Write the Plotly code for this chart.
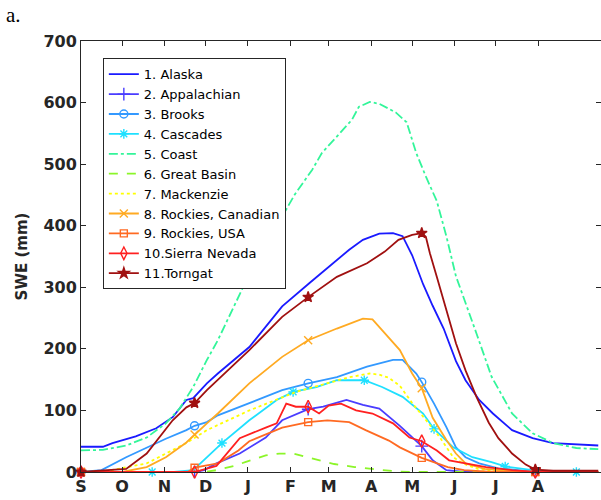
import plotly.graph_objects as go

# ---------------- data (day 0 = 1 September) ----------------
MONTH_DAYS = [0, 30, 61, 91, 122, 153, 181, 212, 242, 273, 303, 334]
MONTH_LABELS = ["S", "O", "N", "D", "J", "F", "M", "A", "M", "J", "J", "A"]
Y_TICKS = [0, 100, 200, 300, 400, 500, 600, 700]

MARK_DAYS = [0, 83, 166, 249, 332]
CASC_MARK_DAYS = [0, 52, 103, 155, 207, 258, 310, 362]

alaska_day = [0, 16, 23, 40, 55, 67, 77, 82, 92, 100, 123, 147, 167, 187, 196, 206, 218, 228, 235,
              242, 250, 257, 265, 274, 281, 291, 301, 315, 330, 345, 359, 378]
alaska_swe = [41, 41, 47, 58, 71, 89, 117, 120, 144, 160, 203, 269, 307, 345, 361, 377, 387, 388, 383,
              352, 305, 270, 233, 180, 149, 117, 95, 68, 55, 47, 45, 43]

appal_day = [0, 83, 90, 99, 116, 123, 135, 147, 166, 177, 194, 206, 218, 233, 249, 257, 267, 280, 332, 378]
appal_swe = [0, 0, 3, 14, 30, 40, 56, 84, 102, 106, 117, 109, 103, 75, 42, 19, 3, 0, 0, 0]

brooks_day = [0, 15, 33, 48, 62, 77, 83, 92, 100, 123, 147, 166, 187, 209, 228, 235, 245, 249, 258,
              267, 274, 281, 291, 305, 320, 332, 378]
brooks_swe = [0, 3, 24, 40, 54, 68, 75, 81, 92, 112, 133, 144, 154, 171, 182, 182, 160, 146, 111,
              73, 40, 24, 14, 6, 2, 0, 0]

casc_day = [0, 52, 68, 82, 92, 103, 123, 143, 155, 172, 187, 207, 220, 235, 250, 258, 272, 286, 300,
            310, 330, 345, 362, 378]
casc_swe = [0, 0, 0, 3, 24, 47, 84, 117, 130, 138, 149, 149, 138, 122, 95, 70, 40, 24, 16,
            9, 3, 0, 0, 0]

coast_day = [0, 16, 33, 48, 62, 72, 82, 92, 100, 118, 121, 156, 169, 176, 189, 198, 203, 211, 218,
             230, 238, 245, 252, 260, 267, 274, 289, 300, 315, 330, 345, 362, 378]
coast_swe = [35, 36, 43, 56, 79, 103, 138, 182, 214, 300, 312, 450, 491, 518, 550, 572, 593, 601, 598,
             584, 568, 518, 480, 440, 383, 318, 225, 155, 95, 63, 47, 39, 37]

basin_day = [0, 90, 99, 112, 120, 135, 145, 155, 165, 175, 185, 200, 215, 230, 245, 378]
basin_swe = [0, 0, 3, 10, 16, 27, 30, 30, 24, 18, 13, 8, 4, 1, 0, 0]

mack_day = [0, 20, 48, 62, 77, 92, 100, 123, 157, 196, 211, 218, 225, 233, 242, 252, 262, 272, 279,
            290, 300, 320, 378]
mack_swe = [0, 2, 14, 30, 47, 68, 76, 100, 130, 154, 160, 158, 153, 140, 112, 84, 57, 24, 14,
            5, 2, 0, 0]

rcan_day = [0, 30, 48, 62, 77, 83, 92, 100, 123, 147, 166, 187, 206, 213, 222, 233, 242, 249, 257,
            267, 274, 281, 295, 310, 332, 378]
rcan_swe = [0, 0, 8, 24, 48, 61, 79, 95, 144, 187, 214, 233, 249, 248, 225, 198, 160, 136, 88,
            52, 30, 14, 5, 2, 0, 0]

rusa_day = [0, 78, 83, 100, 115, 123, 147, 166, 180, 196, 208, 225, 233, 249, 268, 280, 300, 332, 378]
rusa_swe = [0, 0, 7, 14, 35, 50, 72, 81, 84, 81, 68, 51, 40, 23, 8, 3, 0, 0, 0]

sierra_day = [0, 83, 99, 116, 135, 143, 150, 157, 166, 174, 181, 190, 201, 213, 228, 240, 249, 260,
              269, 282, 296, 315, 332, 378]
sierra_swe = [0, 0, 10, 55, 72, 79, 111, 106, 106, 95, 108, 111, 100, 95, 79, 56, 50, 35,
              19, 14, 8, 3, 0, 0]

torn_day = [0, 33, 48, 57, 67, 77, 83, 92, 100, 123, 147, 166, 187, 209, 222, 232, 242, 249, 252,
            255, 260, 267, 274, 281, 289, 298, 305, 315, 325, 332, 345, 378]
torn_swe = [0, 5, 30, 56, 84, 105, 112, 133, 150, 198, 252, 284, 317, 339, 358, 377, 385, 388, 382,
            355, 317, 263, 209, 165, 122, 80, 55, 30, 12, 4, 2, 2]

NAMES = ["1. Alaska", "2. Appalachian", "3. Brooks", "4. Cascades", "5. Coast", "6. Great Basin",
         "7. Mackenzie", "8. Rockies, Canadian", "9. Rockies, USA", "10.Sierra Nevada", "11.Torngat"]

# ---------------- styles ----------------
series = [
    dict(d=alaska_day, v=alaska_swe, color="#1a1aff", dash="solid", sym=None, marks=None, ms=0),
    dict(d=appal_day, v=appal_swe, color="#4a3dff", dash="solid", sym="cross-thin-open", marks=MARK_DAYS, ms=9),
    dict(d=brooks_day, v=brooks_swe, color="#3399ff", dash="solid", sym="circle-open", marks=MARK_DAYS, ms=8),
    dict(d=casc_day, v=casc_swe, color="#1fe0ff", dash="solid", sym="asterisk-open", marks=CASC_MARK_DAYS, ms=8),
    dict(d=coast_day, v=coast_swe, color="#33f59a", dash="dashdot", sym=None, marks=None, ms=0),
    dict(d=basin_day, v=basin_swe, color="#8cf529", dash="dash", sym=None, marks=None, ms=0),
    dict(d=mack_day, v=mack_swe, color="#ffff00", dash="dot", sym=None, marks=None, ms=0),
    dict(d=rcan_day, v=rcan_swe, color="#ffaa22", dash="solid", sym="x-thin-open", marks=MARK_DAYS, ms=8),
    dict(d=rusa_day, v=rusa_swe, color="#ff6a22", dash="solid", sym="square-open", marks=MARK_DAYS, ms=7),
    dict(d=sierra_day, v=sierra_swe, color="#ff2020", dash="solid", sym="diamond-tall-open", marks=MARK_DAYS, ms=9),
    dict(d=torn_day, v=torn_swe, color="#a01010", dash="solid", sym="star", marks=MARK_DAYS, ms=8),
]

fig = go.Figure()
for name, s in zip(NAMES, series):
    fig.add_trace(go.Scatter(x=s["d"], y=s["v"], mode="lines", showlegend=False,
                             line=dict(color=s["color"], width=1.8, dash=s["dash"]),
                             hoverinfo="skip"))
    mk = None
    if s["sym"]:
        mx = [d for d in s["d"] if d in s["marks"]]
        my = [v for d, v in zip(s["d"], s["v"]) if d in s["marks"]]
        mk = dict(symbol=s["sym"], size=s["ms"], color=s["color"],
                  line=dict(color=s["color"], width=1.4))
        fig.add_trace(go.Scatter(x=mx, y=my, mode="markers", showlegend=False,
                                 marker=mk, cliponaxis=False, hoverinfo="skip"))
    fig.add_trace(go.Scatter(x=[None], y=[None], name=name,
                             mode="lines+markers" if mk else "lines",
                             line=dict(color=s["color"], width=1.8, dash=s["dash"]),
                             marker=mk if mk else None))

AX = "#262626"
tickfont = dict(family="DejaVu Sans", size=16, color=AX, weight="bold")

fig.update_layout(
    width=601, height=500,
    margin=dict(l=81, r=0, t=41, b=28),
    paper_bgcolor="white", plot_bgcolor="white",
    showlegend=True,
    legend=dict(x=0.042, y=0.96, xanchor="left", yanchor="top",
                bgcolor="white", bordercolor=AX, borderwidth=1,
                font=dict(family="DejaVu Sans", size=13, color="black"),
                tracegroupgap=0, itemwidth=30),
    xaxis=dict(range=[0, 380], tickmode="array", tickvals=MONTH_DAYS, ticktext=MONTH_LABELS,
               ticks="inside", ticklen=5, tickcolor=AX, showline=True, linecolor=AX, linewidth=1,
               mirror="ticks", showgrid=False, zeroline=False, tickfont=tickfont),
    yaxis=dict(range=[0, 700], tickmode="array", tickvals=Y_TICKS,
               ticks="inside", ticklen=5, tickcolor=AX, showline=True, linecolor=AX, linewidth=1,
               mirror="ticks", showgrid=False, zeroline=False, tickfont=tickfont,
               title=dict(text="SWE (mm)", font=dict(family="DejaVu Sans", size=15, color=AX, weight="bold"),
                          standoff=12)),
    annotations=[dict(text="a.", xref="paper", yref="paper", x=-0.148, y=1.092,
                      xanchor="left", yanchor="top", showarrow=False,
                      font=dict(family="Liberation Serif", size=21, color="black"))],
)

fig.write_html("out.html")
